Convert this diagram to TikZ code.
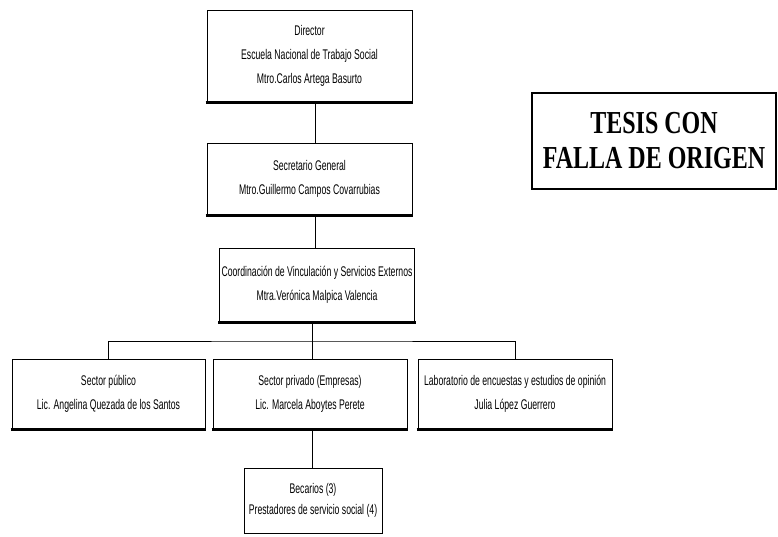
\documentclass[tikz,border=0pt]{standalone}
\usepackage{fontspec}
\setmainfont{Liberation Sans}
\newfontfamily\narrowsans[FakeStretch=0.62]{Liberation Sans}
\newfontfamily\stampserif[FakeStretch=0.75]{Liberation Serif}
\usetikzlibrary{positioning}

\begin{document}
\begin{tikzpicture}[x=1pt,y=-1pt,
        orgbox/.style={draw, line width=0.9pt, inner sep=2pt, align=center,
            font=\narrowsans\fontsize{14}{24}\selectfont}]
        \useasboundingbox (0,0) rectangle (778,536);

        \node[orgbox, minimum width=205pt, minimum height=92pt] (director) at (309.5,56)
            {Director\\Escuela Nacional de Trabajo Social\\Mtro.Carlos Artega Basurto};
        \node[orgbox, minimum width=205pt, minimum height=72pt] (secretario) at (309.5,179)
            {Secretario General\\Mtro.Guillermo Campos Covarrubias};
        \node[orgbox, minimum width=192pt, minimum height=74pt] (coord) at (317,285)
            {Coordinación de Vinculación y Servicios Externos\\Mtra.Verónica Malpica Valencia};

        \node[orgbox, minimum width=193pt, minimum height=70pt] (publico) at (108.5,394)
            {Sector público\\Lic. Angelina Quezada de los Santos};
        \node[orgbox, minimum width=194pt, minimum height=70pt] (privado) at (310,394)
            {Sector privado (Empresas)\\Lic. Marcela Aboytes Perete};
        \node[orgbox, minimum width=194pt, minimum height=70pt] (lab) at (515,394)
            {Laboratorio de encuestas y estudios de opinión\\Julia López Guerrero};

        \node[orgbox, minimum width=138pt, minimum height=65pt, font=\narrowsans\fontsize{14}{21}\selectfont]
            (becarios) at (313,500.5) {Becarios (3)\\Prestadores de servicio social (4)};

        % shadow under the boxes
        \foreach \n in {director,secretario,coord,publico,privado,lab}
            \draw[line width=2.2pt] ([xshift=-1pt]\n.south west) -- ([xshift=1pt]\n.south east);

        \draw[line width=0.9pt] (director.south -| 315,0) -- (secretario.north -| 315,0);
        \draw[line width=0.9pt] (secretario.south -| 315,0) -- (coord.north -| 315,0);
        \coordinate (bus) at (312,341);
        \draw[line width=0.9pt] (publico.north) |- (bus) -| (lab.north);
        \draw[line width=0.9pt] (coord.south -| bus) -- (privado.north -| bus);
        \draw[line width=0.9pt] (privado.south -| bus) -- (becarios.north -| bus);

        % sello
        \node[draw, line width=1.2pt, minimum width=244pt, minimum height=96pt, align=center,
            font=\stampserif\bfseries\fontsize{32}{35}\selectfont] (tesis) at (654,141)
            {TESIS CON\\FALLA DE ORIGEN};
    \end{tikzpicture}
\end{document}
